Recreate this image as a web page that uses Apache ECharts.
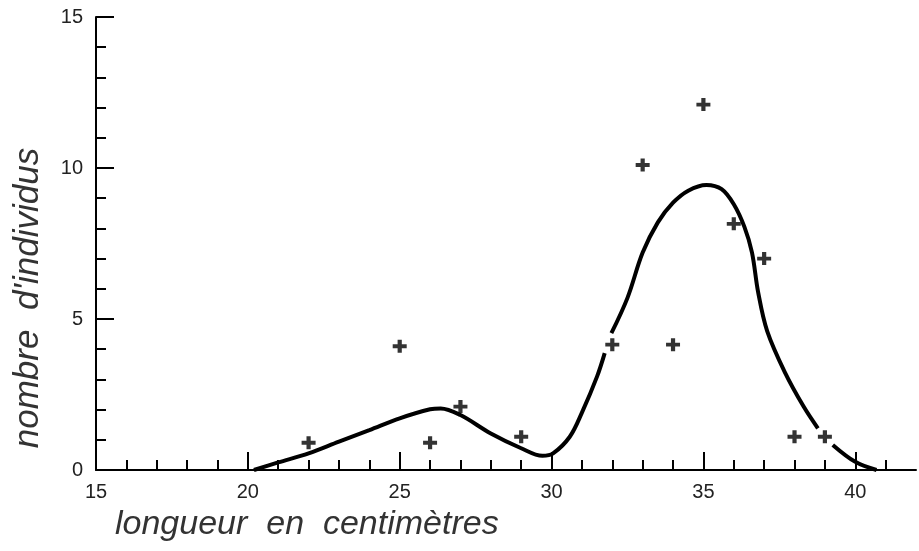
<!DOCTYPE html>
<html>
<head>
<meta charset="utf-8">
<script src="https://cdn.jsdelivr.net/npm/echarts@6/dist/echarts.min.js"></script>
<style>
  html, body { margin: 0; padding: 0; background: #fff; }
  #board { width: 919px; height: 551px; }
</style>
</head>
<body>
<div id="board"></div>
<script>
// points relevés (croix)
var pointsX = [22, 25, 26, 27, 29, 32, 33, 34, 35, 36, 37, 38, 39];
var pointsY = [0.9, 4.1, 0.9, 2.1, 1.1, 4.15, 10.1, 4.15, 12.1, 8.15, 7, 1.1, 1.1];

// courbe lissée (null = coupure du trait)
var curveX = [20.2, 21, 22, 23, 24, 25, 26, 26.35, 27, 28, 29, 29.7, 30.05, 30.6, 31, 31.5, 31.75, 31.86, 31.97, 32.5, 33, 33.5, 34, 34.5, 35.1, 35.6, 36, 36.35, 36.6, 36.8, 37.1, 37.7, 38.3, 38.77, 39, 39.26, 40, 40.7];
var curveY = [0, 0.25, 0.55, 0.94, 1.32, 1.71, 2.01, 2.04, 1.82, 1.21, 0.72, 0.47, 0.55, 1.1, 1.9, 3.1, 3.87, null, 4.53, 5.7, 7.2, 8.2, 8.85, 9.25, 9.44, 9.3, 8.8, 8.05, 7.2, 5.9, 4.6, 3.2, 2.1, 1.38, null, 0.83, 0.27, 0];

// graduations
var xLabelTicks = [15, 20, 25, 30, 35, 40];
var xMajorTicks = [20, 25, 30, 35, 40];
var xMinorTicks = [16, 17, 18, 19, 21, 22, 23, 24, 26, 27, 28, 29, 31, 32, 33, 34, 36, 37, 38, 39, 41];

function pairs(xs, ys) {
  return xs.map(function (x, i) { return [x, ys[i] === null ? "-" : ys[i]]; });
}

var ink = "#000";
var labelFont = "'Liberation Sans', sans-serif";

var options = {
  animation: false,
  grid: { left: 96, right: 3, top: 17, bottom: 81, outerBoundsMode: "none" },
  xAxis: [
    {
      type: "value", min: 15, max: 42,
      splitLine: { show: false },
      axisLine: { lineStyle: { color: ink, width: 2 } },
      axisTick: { inside: true, length: 18, customValues: xMajorTicks, lineStyle: { color: ink, width: 2 } },
      axisLabel: { customValues: xLabelTicks, color: "#222", fontSize: 20, fontFamily: labelFont, margin: 12 }
    },
    {
      type: "value", min: 15, max: 42, position: "bottom",
      splitLine: { show: false },
      axisLine: { show: false },
      axisTick: { inside: true, length: 10, customValues: xMinorTicks, lineStyle: { color: ink, width: 2 } },
      axisLabel: { show: false }
    }
  ],
  yAxis: {
    type: "value", min: 0, max: 15, interval: 5,
    splitLine: { show: false },
    axisLine: { lineStyle: { color: ink, width: 2 } },
    axisTick: { inside: true, length: 18, lineStyle: { color: ink, width: 2 } },
    minorTick: { show: true, splitNumber: 5, length: 10, lineStyle: { color: ink, width: 2 } },
    axisLabel: { color: "#222", fontSize: 20, fontFamily: labelFont, margin: 13 }
  },
  graphic: [
    {
      type: "text", left: 115, top: 508,
      style: { text: "longueur  en  centimètres", fill: "#333", font: "italic 34px " + labelFont }
    },
    {
      type: "text", x: 28, y: 298, rotation: Math.PI / 2,
      style: { text: "nombre  d'individus", fill: "#333", font: "italic 35px " + labelFont, align: "center", verticalAlign: "middle" }
    }
  ],
  series: [
    {
      type: "line", xAxisIndex: 0, smooth: 0.35, showSymbol: false, connectNulls: false,
      data: pairs(curveX, curveY),
      lineStyle: { color: ink, width: 4 }
    },
    {
      type: "scatter", xAxisIndex: 0,
      symbol: "path://M3.5,0H6.5V3.5H10V6.5H6.5V10H3.5V6.5H0V3.5H3.5Z",
      symbolSize: [14, 13],
      itemStyle: { color: ink },
      data: pairs(pointsX, pointsY)
    }
  ]
};

var myChart = echarts.init(document.getElementById("board"));
myChart.setOption(options);
</script>
</body>
</html>
